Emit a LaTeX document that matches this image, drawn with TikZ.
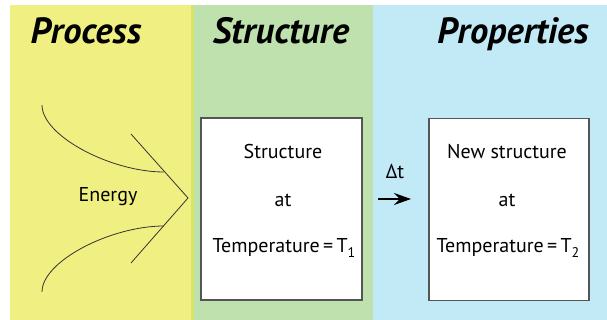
\documentclass[tikz,border=0pt]{standalone}
\usepackage{fontspec}
\setmainfont{PT Sans}
\usetikzlibrary{arrows.meta}
\definecolor{procY}{RGB}{240,240,130}
\definecolor{strG}{RGB}{191,225,173}
\definecolor{propB}{RGB}{194,233,246}
\definecolor{stripY}{RGB}{214,229,100}
\definecolor{boxline}{RGB}{85,85,85}
\tikzset{
  header/.style={font=\fontsize{36.5}{40}\selectfont\bfseries\itshape, anchor=base, inner sep=0pt},
  sbox/.style={draw=boxline, line width=1.3pt, fill=white, minimum width=161pt, minimum height=182pt, inner sep=0pt},
  body/.style={font=\fontsize{20}{23}\selectfont, anchor=center, inner sep=0pt},
  curveline/.style={draw=black!80, line width=0.8pt},
}
\newcommand{\lowsub}[1]{\raisebox{-0.25em}{\fontsize{14}{16}\selectfont #1}}
\begin{document}
\begin{tikzpicture}[x=1pt,y=-1pt]
\useasboundingbox (0,0) rectangle (607,320);
% backgrounds
\fill[procY] (10,5) rectangle (192,320);
\fill[stripY] (191,5) rectangle (194,320);
\fill[strG] (194,5) rectangle (373,320);
\fill[propB] (373,5) rectangle (607,320);
% headers
\node[header] (hproc) at (86,44) {Process};
\node[header] (hstr) at (281,44) {Structure};
\node[header] (hprop) at (513,44) {Properties};
% boxes
\node[sbox] (b1) at (281.5,209) {};
\node[sbox, minimum width=160pt] (b2) at (509,209.5) {};
\node[body] (s1) at (283,152) {Structure};
\node[body] (a1) at (283,200) {at};
\node[body] (t1) at (284,248) {Temperature\,=\,T\lowsub{1}};
\node[body] (s2) at (507,152) {New structure};
\node[body] (a2) at (507,200) {at};
\node[body] (t2) at (508,248) {Temperature\,=\,T\lowsub{2}};
% delta t arrow
\node[body] (dt) at (395,172) {Δt};
\coordinate (arS) at (378,199);
\coordinate (arE) at (411,199);
\draw[line width=1.8pt, -{Stealth[length=17pt,width=12pt,inset=6pt]}] (arS) -- (arE);
% energy
\node[body] (en) at (108,197) {Energy};
\coordinate (chT) at (131,134);
\coordinate (chM) at (188,198);
\coordinate (chB) at (131,263);
\coordinate (c1s) at (42,105);
\coordinate (c1e) at (164,172);
\coordinate (c2s) at (42,292);
\coordinate (c2e) at (164,226);
\draw[curveline] (chT) -- (chM) -- (chB);
\draw[curveline] (c1s) .. controls (42,136) and (111,172) .. (c1e);
\draw[curveline] (c2s) .. controls (42,261) and (111,226) .. (c2e);
\end{tikzpicture}
\end{document}
